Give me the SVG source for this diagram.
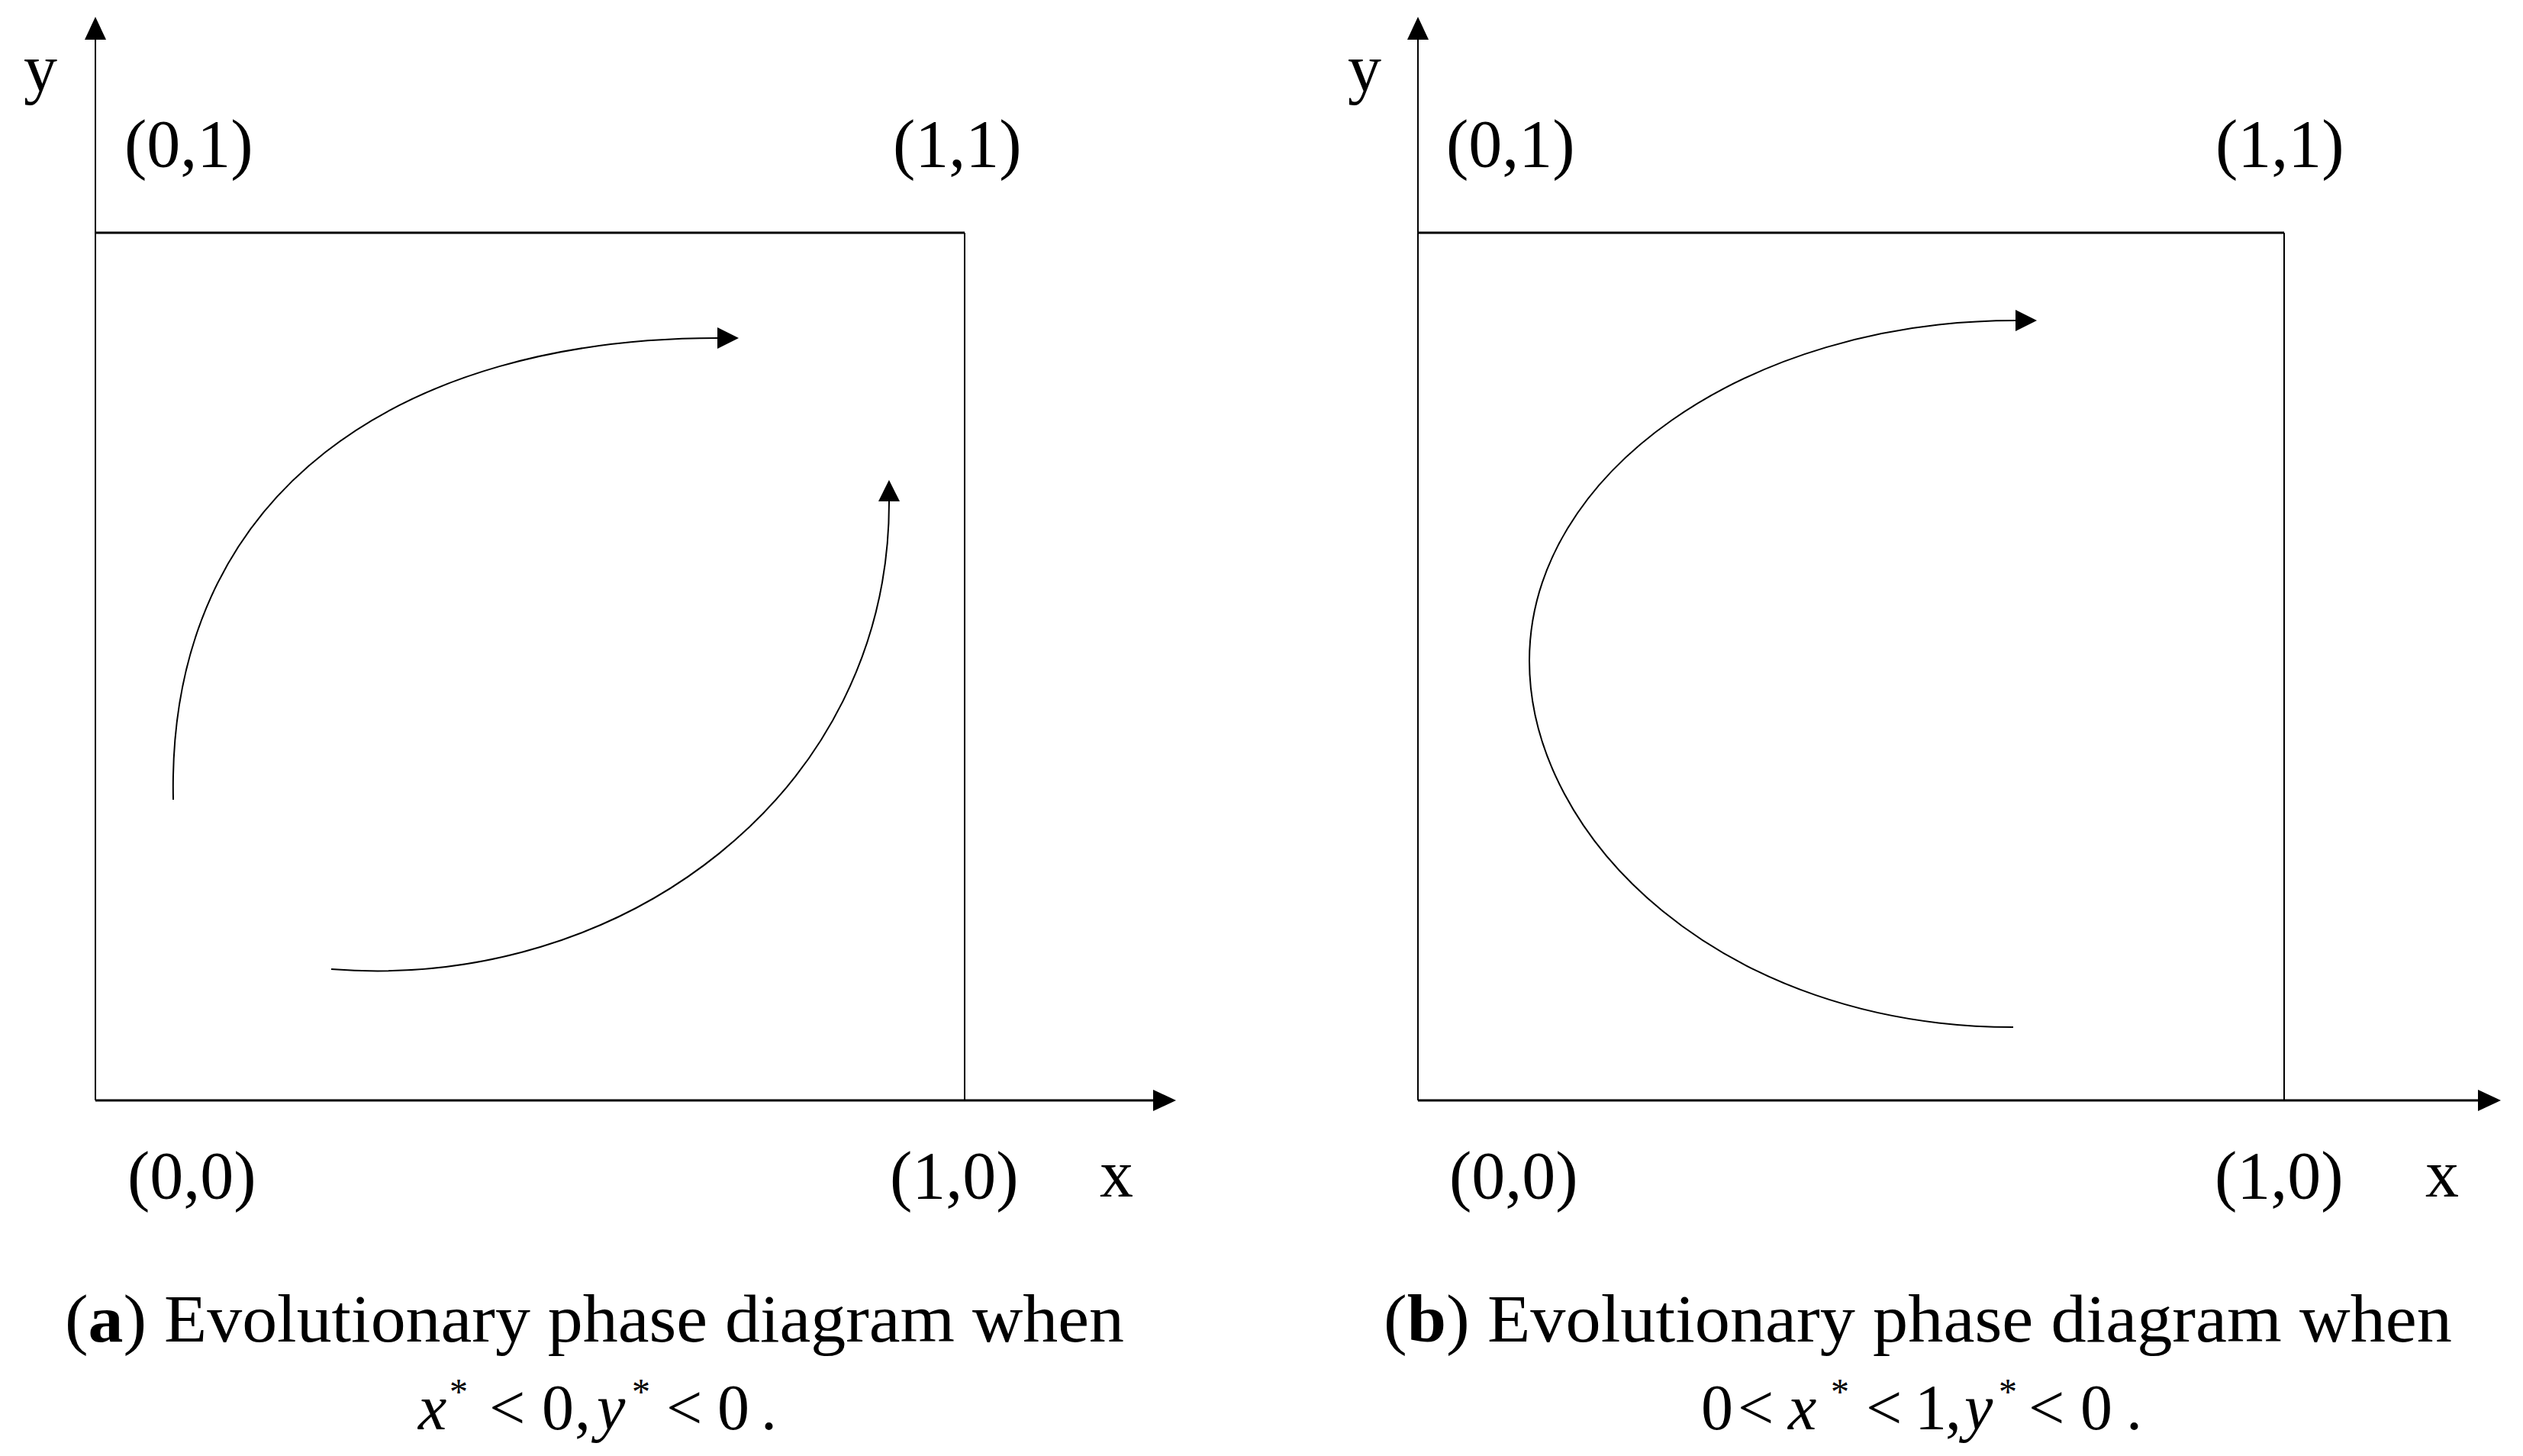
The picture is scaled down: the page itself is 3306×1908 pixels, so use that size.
<svg xmlns="http://www.w3.org/2000/svg" width="3306" height="1908" viewBox="0 0 3306 1908">
  <style>
    .lbl { font-family: "Liberation Serif", "Times New Roman", serif; font-size: 88px; fill: #000; }
    .cap { font-family: "Liberation Serif", "Times New Roman", serif; font-size: 88px; fill: #000; }
    .math { font-family: "Liberation Serif", "Times New Roman", serif; font-size: 84px; fill: #000; }
    .it { font-style: italic; }
    .sup { font-size: 48px; }
    .axis { stroke: #000; stroke-width: 2; fill: none; }
    .hline { stroke: #000; stroke-width: 3; fill: none; }
    .curve { stroke: #000; stroke-width: 2; fill: none; marker-end: url(#head); }
  </style>
  <defs>
    <marker id="head" viewBox="0 0 28 28" refX="0" refY="14" markerWidth="28" markerHeight="28" markerUnits="userSpaceOnUse" orient="auto">
      <path d="M0,0 L28,14 L0,28 z" fill="#000"/>
    </marker>
    <marker id="axhead" viewBox="0 0 30 28" refX="0" refY="14" markerWidth="30" markerHeight="28" markerUnits="userSpaceOnUse" orient="auto">
      <path d="M0,0 L30,14 L0,28 z" fill="#000"/>
    </marker>
  </defs>
  <rect width="3306" height="1908" fill="#fff"/>

  <!-- Panel (a) -->
  <g id="panel-a">
    <g id="a-frame">
      <line class="axis" x1="125" y1="1442" x2="125" y2="52" marker-end="url(#axhead)"/>
      <line class="hline" x1="125" y1="1442" x2="1511" y2="1442" marker-end="url(#axhead)"/>
      <line class="hline" x1="125" y1="305" x2="1264" y2="305"/>
      <line class="axis" x1="1264" y1="305" x2="1264" y2="1442"/>
    </g>
    <g id="a-labels">
      <text class="lbl" x="31" y="119">y</text>
      <text class="lbl" x="163" y="218">(0,1)</text>
      <text class="lbl" x="1170" y="218">(1,1)</text>
      <text class="lbl" x="167" y="1570">(0,0)</text>
      <text class="lbl" x="1166" y="1570">(1,0)</text>
      <text class="lbl" x="1441" y="1568">x</text>
    </g>
    <g id="a-connectors">
      <path class="curve" d="M227,1048 C218,640 530,443 940,443"/>
      <path class="curve" d="M434,1270 C814,1300 1166,1040 1165,657"/>
    </g>
    <g id="a-caption">
      <text class="cap" x="85" y="1758" textLength="1388" lengthAdjust="spacingAndGlyphs">(<tspan font-weight="bold">a</tspan>) Evolutionary phase diagram when</text>
      <text class="math" y="1873">
        <tspan class="it" x="548">x</tspan>
        <tspan class="sup" x="589" y="1840">*</tspan>
        <tspan x="641" y="1873">&lt;</tspan>
        <tspan x="710">0</tspan>
        <tspan x="753">,</tspan>
        <tspan class="it" x="782">y</tspan>
        <tspan class="sup" x="828" y="1840">*</tspan>
        <tspan x="873" y="1873">&lt;</tspan>
        <tspan x="940">0</tspan>
        <tspan x="997">.</tspan>
      </text>
    </g>
  </g>

  <!-- Panel (b) -->
  <g id="panel-b">
    <g id="b-frame">
      <line class="axis" x1="1858" y1="1442" x2="1858" y2="52" marker-end="url(#axhead)"/>
      <line class="hline" x1="1858" y1="1442" x2="3247" y2="1442" marker-end="url(#axhead)"/>
      <line class="hline" x1="1858" y1="305" x2="2993" y2="305"/>
      <line class="axis" x1="2993" y1="305" x2="2993" y2="1442"/>
    </g>
    <g id="b-labels">
      <text class="lbl" x="1766" y="119">y</text>
      <text class="lbl" x="1895" y="218">(0,1)</text>
      <text class="lbl" x="2903" y="218">(1,1)</text>
      <text class="lbl" x="1899" y="1570">(0,0)</text>
      <text class="lbl" x="2902" y="1570">(1,0)</text>
      <text class="lbl" x="3178" y="1568">x</text>
    </g>
    <g id="b-connectors">
      <path class="curve" d="M2638,1346 C2258,1346 2004,1100 2004,866 C2004,620 2289,420 2641,420"/>
    </g>
    <g id="b-caption">
      <text class="cap" x="1813" y="1758" textLength="1400" lengthAdjust="spacingAndGlyphs">(<tspan font-weight="bold">b</tspan>) Evolutionary phase diagram when</text>
      <text class="math" y="1873">
        <tspan x="2229">0</tspan>
        <tspan x="2277">&lt;</tspan>
        <tspan class="it" x="2343">x</tspan>
        <tspan class="sup" x="2399" y="1840">*</tspan>
        <tspan x="2445" y="1873">&lt;</tspan>
        <tspan x="2509">1</tspan>
        <tspan x="2549">,</tspan>
        <tspan class="it" x="2574">y</tspan>
        <tspan class="sup" x="2619" y="1840">*</tspan>
        <tspan x="2658" y="1873">&lt;</tspan>
        <tspan x="2726">0</tspan>
        <tspan x="2786">.</tspan>
      </text>
    </g>
  </g>
</svg>
